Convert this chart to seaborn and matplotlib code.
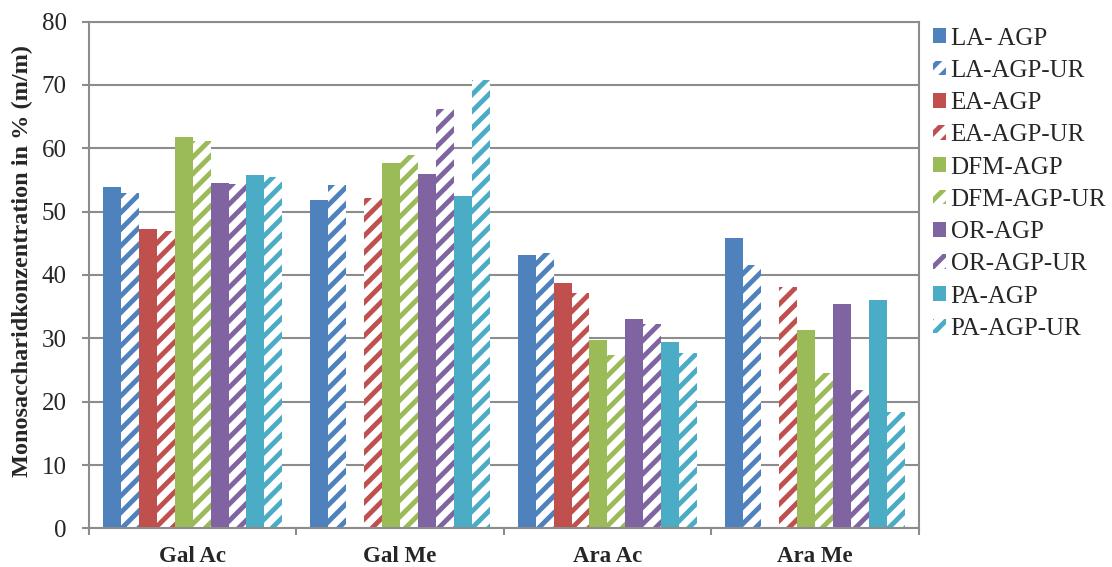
import matplotlib
matplotlib.use("Agg")
import matplotlib.pyplot as plt
import matplotlib.patches as mpatches
from matplotlib.ticker import FixedLocator
import numpy as np
import pandas as pd
import seaborn as sns

# categories and series
categories = ["Gal Ac", "Gal Me", "Ara Ac", "Ara Me"]
series = ["LA- AGP", "LA-AGP-UR", "EA-AGP", "EA-AGP-UR", "DFM-AGP",
          "DFM-AGP-UR", "OR-AGP", "OR-AGP-UR", "PA-AGP", "PA-AGP-UR"]

la_agp = [53.9, 51.8, 43.1, 45.9]
la_agp_ur = [53.0, 54.2, 43.4, 41.5]
ea_agp = [47.3, np.nan, 38.7, np.nan]
ea_agp_ur = [47.0, 52.1, 37.1, 38.1]
dfm_agp = [61.8, 57.7, 29.7, 31.3]
dfm_agp_ur = [61.2, 58.9, 27.3, 24.6]
or_agp = [54.5, 56.0, 33.0, 35.4]
or_agp_ur = [54.4, 66.2, 32.2, 21.9]
pa_agp = [55.8, 52.4, 29.5, 36.0]
pa_agp_ur = [55.4, 70.7, 27.7, 18.3]

base_colors = ["#4F81BD", "#C0504D", "#9BBB59", "#8064A2", "#4BACC6"]

values = [la_agp, la_agp_ur, ea_agp, ea_agp_ur, dfm_agp,
          dfm_agp_ur, or_agp, or_agp_ur, pa_agp, pa_agp_ur]

rows = []
for name, vals in zip(series, values):
    for cat, v in zip(categories, vals):
        rows.append({"category": cat, "series": name, "value": v})
df = pd.DataFrame(rows)

sns.set_style("white")
plt.rcParams["font.family"] = ["Liberation Serif", "DejaVu Serif"]
plt.rcParams["hatch.linewidth"] = 3.5

palette = [c for c in base_colors for _ in range(2)]

fig = plt.figure(figsize=(11.12, 5.67), dpi=100)
ax = fig.add_axes([0.080, 0.068, 0.746, 0.894])

sns.barplot(data=df, x="category", y="value", hue="series",
            hue_order=series, order=categories, palette=palette,
            width=0.865, saturation=1, ax=ax, legend=False)

# UR series: white bars with coloured diagonal stripes
handles = []
for i, container in enumerate(ax.containers):
    col = palette[i]
    hatched = i % 2 == 1
    for bar in container:
        bar.set_facecolor("white" if hatched else col)
        bar.set_edgecolor(col)
        bar.set_linewidth(0)
        if hatched:
            bar.set_hatch("//")
    handles.append(mpatches.Patch(facecolor="white" if hatched else col,
                                  edgecolor=col, linewidth=0,
                                  hatch="//" if hatched else None,
                                  label=series[i]))

ax.set_ylim(0, 80)
ax.set_yticks(range(0, 81, 10))
ax.yaxis.grid(True, color="#8c8c8c", linewidth=1.5)
ax.set_axisbelow(True)
for sp in ax.spines.values():
    sp.set_color("#8c8c8c")
    sp.set_linewidth(1.5)
    sp.set_visible(True)

ax.set_xlim(-0.5, 3.5)
ax.xaxis.set_minor_locator(FixedLocator([-0.5, 0.5, 1.5, 2.5, 3.5]))
ax.tick_params(axis="x", which="major", length=0, pad=13)
ax.tick_params(axis="x", which="minor", length=5, width=1.5, color="#8c8c8c",
               direction="out", bottom=True)
ax.tick_params(axis="y", length=5, width=1.5, color="#8c8c8c",
               direction="out", left=True, labelsize=18, pad=11)
for lab in ax.get_xticklabels():
    lab.set_fontweight("bold")
    lab.set_fontsize(16.5)

ax.set_xlabel("")
ax.set_ylabel("Monosaccharidkonzentration in % (m/m)", fontsize=17.5,
              fontweight="bold")
ax.yaxis.set_label_coords(-0.0675, 0.528)

ax.legend(handles=handles, loc="upper left", bbox_to_anchor=(1.017, 0.988),
          frameon=False, fontsize=18, handlelength=0.52, handleheight=0.52,
          handletextpad=0.2, labelspacing=0.41, borderpad=0, borderaxespad=0)

fig.savefig("out.png", dpi=100)
